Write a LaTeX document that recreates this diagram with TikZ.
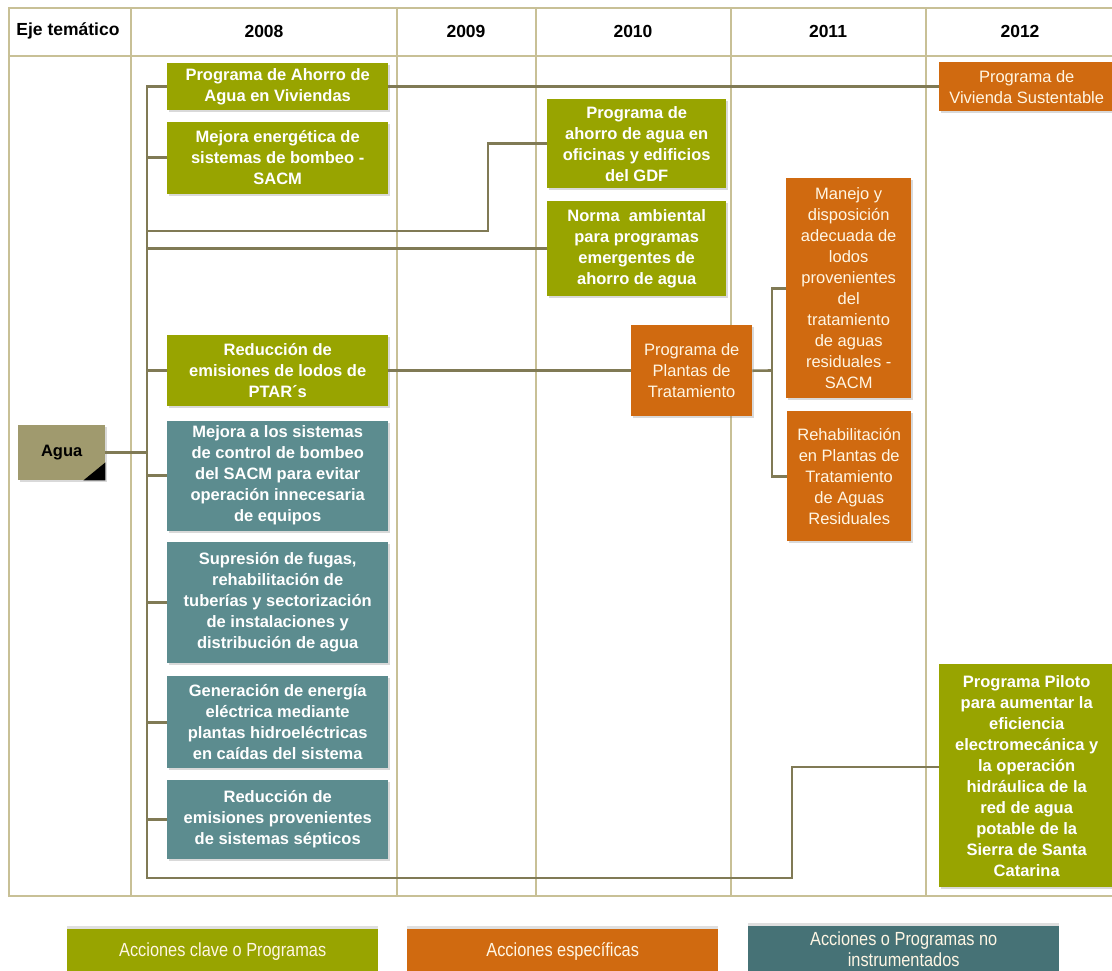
\documentclass[tikz,border=0pt]{standalone}
\usepackage{fontspec}
\setmainfont{Liberation Sans}
\newfontfamily\narrowfont[FakeStretch=0.86]{Liberation Sans}
\usetikzlibrary{positioning,shadows}

\definecolor{verdeclave}{RGB}{152,164,0}
\definecolor{naranja}{RGB}{208,106,16}
\definecolor{azulado}{RGB}{92,140,143}
\definecolor{azuloscuro}{RGB}{70,114,118}
\definecolor{aguacol}{RGB}{160,154,110}
\definecolor{linea}{RGB}{128,122,85}
\definecolor{khaki}{RGB}{200,192,150}
\definecolor{crema}{RGB}{255,246,228}

\begin{document}
\begin{tikzpicture}[x=1pt,y=-1pt,
        caja/.style={anchor=north west,align=center,inner sep=2pt,text=white,
          font=\fontsize{16.5}{21}\selectfont\bfseries,
          drop shadow={shadow xshift=2pt,shadow yshift=-2pt,opacity=0.3}},
        clave/.style={caja,fill=verdeclave},
        especifica/.style={caja,fill=naranja,text=crema,font=\fontsize{16.5}{21}\selectfont},
        noinstr/.style={caja,fill=azulado},
        c08/.style={minimum width=221pt},
        conn/.style={draw=linea,line width=2.6pt},
        rejilla/.style={draw=khaki,line width=1.2pt},
        encabezado/.style={font=\fontsize{17.5}{20}\selectfont\bfseries},
        leyenda/.style={anchor=north west,align=center,text=crema,minimum width=311pt,
          font=\narrowfont\fontsize{19}{21}\selectfont,
          drop shadow={shadow xshift=0pt,shadow yshift=3pt,opacity=0.25}}
      ]
  \useasboundingbox (0,0) rectangle (1112,970);

  % tabla
  \draw[rejilla] (1112,8) -- (9,8) -- (9,896) -- (1112,896);
  \draw[rejilla] (9,56) -- (1112,56);
  \foreach \x in {131,397,536,731,926}
    \draw[rejilla] (\x,8) -- (\x,896);

  \node (eje) [encabezado] at (68,31) {Eje temático};
  \foreach \x/\a in {264/2008,466/2009,633/2010,828/2011,1020/2012}
    \node (a\a) [encabezado] at (\x,31) {\a};

  % eje
  \node (agua) [caja,fill=aguacol,text=black,minimum width=87pt,minimum height=55pt] at (18,425) {Agua};
  \fill (agua.south east) -- ++(-22,0) -- ++(22,-18) -- cycle;

  % 2008
  \node (ahorro) [clave,c08,minimum height=47pt] at (167,63) {Programa de Ahorro de\\Agua en Viviendas};
  \node (bombeo) [clave,c08,minimum height=72pt,below=11pt of ahorro] {Mejora energética de\\sistemas de bombeo -\\SACM};
  \node (lodos) [clave,c08,minimum height=71pt] at (167,335) {Reducción de\\emisiones de lodos de\\PTAR´s};
  \node (control) [noinstr,c08,minimum height=110pt,below=14pt of lodos] {Mejora a los sistemas\\de control de bombeo\\del SACM para evitar\\operación innecesaria\\de equipos};
  \node (fugas) [noinstr,c08,minimum height=121pt,below=11pt of control] {Supresión de fugas,\\rehabilitación de\\tuberías y sectorización\\de instalaciones y\\distribución de agua};
  \node (energia) [noinstr,c08,minimum height=92pt,below=13pt of fugas] {Generación de energía\\eléctrica mediante\\plantas hidroeléctricas\\en caídas del sistema};
  \node (septicos) [noinstr,c08,minimum height=79pt,below=11pt of energia] {Reducción de\\emisiones provenientes\\de sistemas sépticos};

  % 2010
  \node (oficinas) [clave,minimum width=179pt,minimum height=89pt] at (547,99) {Programa de\\ahorro de agua en\\oficinas y edificios\\del GDF};
  \node (norma) [clave,minimum width=179pt,minimum height=95pt] at (547,201) {Norma\ \ ambiental\\para programas\\emergentes de\\ahorro de agua};
  \node (plantas) [especifica,minimum width=121pt,minimum height=91pt] at (631,325) {Programa de\\Plantas de\\Tratamiento};

  % 2011
  \node (manejo) [especifica,minimum width=125pt,minimum height=220pt] at (786,178) {Manejo y\\disposición\\adecuada de\\lodos\\provenientes\\del\\tratamiento\\de aguas\\residuales -\\SACM};
  \node (rehab) [especifica,minimum width=124pt,minimum height=130pt] at (787,411) {Rehabilitación\\en Plantas de\\Tratamiento\\de Aguas\\Residuales};

  % 2012
  \node (vivienda) [especifica,minimum width=175pt,minimum height=49pt] at (939,62) {Programa de\\Vivienda Sustentable};
  \node (piloto) [clave,minimum width=175pt,minimum height=223pt] at (939,664) {Programa Piloto\\para aumentar la\\eficiencia\\electromecánica y\\la operación\\hidráulica de la\\red de agua\\potable de la\\Sierra de Santa\\Catarina};

  % conectores
  \coordinate (fin) at (147,878);
  \coordinate (codo) at (792,767);
  \coordinate (quiebre) at (488,231);
  \coordinate (div) at (772,370.5);
  \draw[conn] (ahorro.west) -| (fin) -| (codo) -- (codo -| piloto.west);
  \draw[conn] (agua.east) -- (agua.east -| fin);
  \draw[conn] (ahorro.east) -- (vivienda.west);
  \foreach \n in {bombeo,norma,lodos,control,fugas,energia,septicos}
    \draw[conn] (\n.west) -- (\n.west -| fin);
  \draw[conn] (oficinas.west) -| (quiebre) -- (quiebre -| fin);
  \draw[conn] (lodos.east) -- (plantas.west);
  \draw[conn] (plantas.east) -- (div);
  \draw[conn] (manejo.west) -| (div) |- (rehab.west);

  % leyenda
  \node (leyclave) [leyenda,fill=verdeclave,minimum height=44pt] at (67,929) {Acciones clave o Programas};
  \node (leyesp) [leyenda,fill=naranja,minimum height=44pt] at (407,929) {Acciones específicas};
  \node (leyno) [leyenda,fill=azuloscuro,minimum height=46pt] at (748,926) {Acciones o Programas no\\instrumentados};

\end{tikzpicture}
\end{document}
